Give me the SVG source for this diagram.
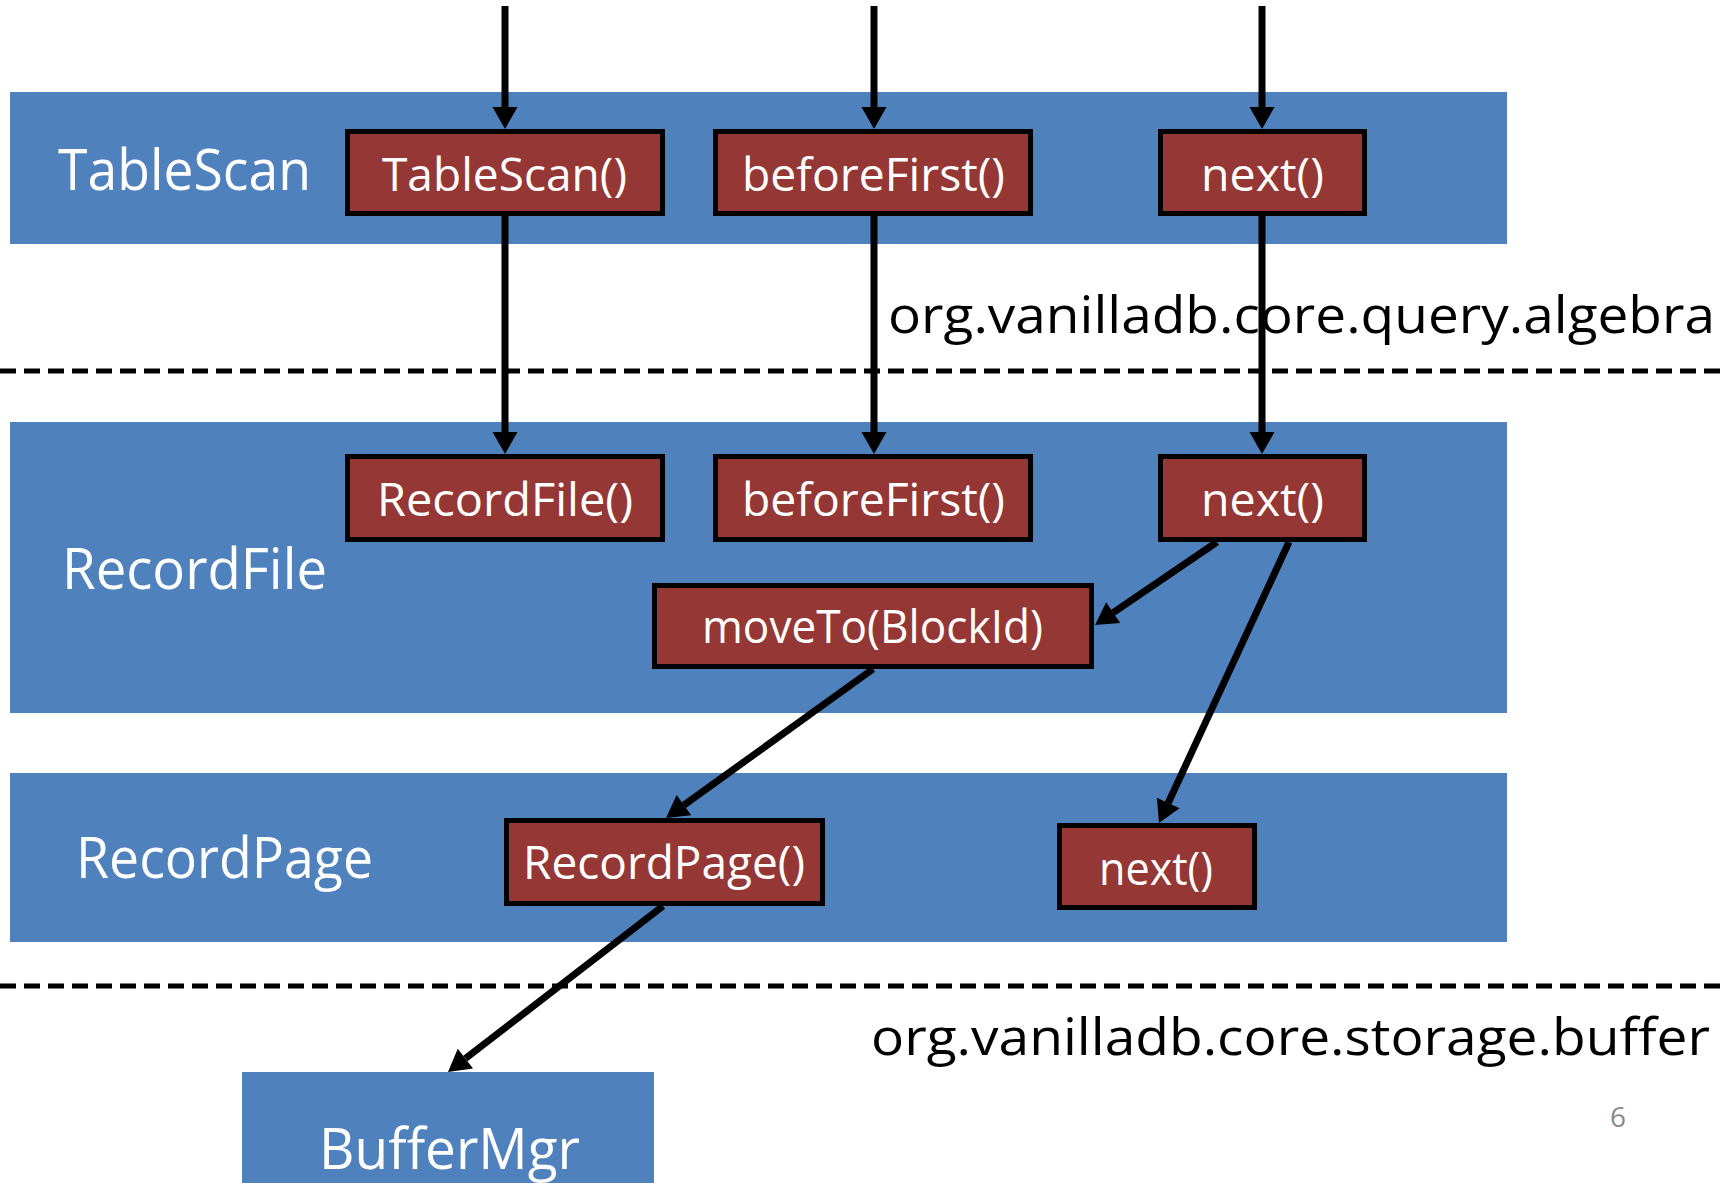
<svg xmlns="http://www.w3.org/2000/svg" width="1728" height="1183" viewBox="0 0 1728 1183">
  <defs>
    <style>
      .band { fill: #4F81BD; }
      .box { fill: #953735; stroke: #000; stroke-width: 5; }
      .lbl { font-family: "Open Sans", "Liberation Sans", sans-serif; fill: #fff; font-size: 56px; }
      .btxt { font-family: "Open Sans", "Liberation Sans", sans-serif; fill: #fff; font-size: 45px; }
      .pkg { font-family: "Open Sans", "Liberation Sans", sans-serif; fill: #000; font-size: 52px; }
      .num { font-family: "Open Sans", "Liberation Sans", sans-serif; fill: #898989; font-size: 27px; }
      .dash { stroke: #000; stroke-width: 5; stroke-dasharray: 16 8; fill: none; }
      .conn { stroke: #000; stroke-width: 7; fill: none; marker-end: url(#arrow); }
    </style>
    <marker id="arrow" markerUnits="userSpaceOnUse" markerWidth="23" markerHeight="25" refX="0" refY="12.5" orient="auto" overflow="visible">
      <path d="M0,0 L22,12.5 L0,25 z" fill="#000"/>
    </marker>
  </defs>

  <rect width="1728" height="1183" fill="#fff"/>

  <!-- layer bands -->
  <g id="band-tablescan">
    <rect class="band" x="10" y="92" width="1497" height="152"/>
    <text class="lbl" x="58" y="190" textLength="253" lengthAdjust="spacingAndGlyphs">TableScan</text>
  </g>
  <g id="band-recordfile">
    <rect class="band" x="10" y="422" width="1497" height="291"/>
    <text class="lbl" x="62" y="589" textLength="265" lengthAdjust="spacingAndGlyphs">RecordFile</text>
  </g>
  <g id="band-recordpage">
    <rect class="band" x="10" y="773" width="1497" height="169"/>
    <text class="lbl" x="76" y="878" textLength="297" lengthAdjust="spacingAndGlyphs">RecordPage</text>
  </g>
  <g id="buffermgr">
    <rect class="band" x="242" y="1072" width="412" height="120"/>
    <text class="lbl" x="319" y="1169" textLength="261" lengthAdjust="spacingAndGlyphs">BufferMgr</text>
  </g>

  <!-- package separators -->
  <g id="separators">
    <line class="dash" x1="0" y1="371" x2="1728" y2="371"/>
    <line class="dash" x1="0" y1="986" x2="1728" y2="986"/>
    <text class="pkg" x="888" y="333" textLength="827" lengthAdjust="spacingAndGlyphs">org.vanilladb.core.query.algebra</text>
    <text class="pkg" x="871" y="1055" textLength="839" lengthAdjust="spacingAndGlyphs">org.vanilladb.core.storage.buffer</text>
  </g>

  <!-- method nodes -->
  <g id="ts-ctor">
    <rect class="box" x="347.5" y="131.5" width="315" height="82"/>
    <text class="btxt" x="382" y="191" textLength="245" lengthAdjust="spacingAndGlyphs">TableScan()</text>
  </g>
  <g id="ts-beforefirst">
    <rect class="box" x="715.5" y="131.5" width="315" height="82"/>
    <text class="btxt" x="742" y="191" textLength="263" lengthAdjust="spacingAndGlyphs">beforeFirst()</text>
  </g>
  <g id="ts-next">
    <rect class="box" x="1160.5" y="131.5" width="204" height="82"/>
    <text class="btxt" x="1201" y="191" textLength="123" lengthAdjust="spacingAndGlyphs">next()</text>
  </g>
  <g id="rf-ctor">
    <rect class="box" x="347.5" y="456.5" width="315" height="83"/>
    <text class="btxt" x="377" y="516" textLength="256" lengthAdjust="spacingAndGlyphs">RecordFile()</text>
  </g>
  <g id="rf-beforefirst">
    <rect class="box" x="715.5" y="456.5" width="315" height="83"/>
    <text class="btxt" x="742" y="516" textLength="263" lengthAdjust="spacingAndGlyphs">beforeFirst()</text>
  </g>
  <g id="rf-next">
    <rect class="box" x="1160.5" y="456.5" width="204" height="83"/>
    <text class="btxt" x="1201" y="516" textLength="123" lengthAdjust="spacingAndGlyphs">next()</text>
  </g>
  <g id="rf-moveto">
    <rect class="box" x="654.5" y="585.5" width="437" height="81"/>
    <text class="btxt" x="702" y="643" textLength="341" lengthAdjust="spacingAndGlyphs">moveTo(BlockId)</text>
  </g>
  <g id="rp-ctor">
    <rect class="box" x="506.5" y="820.5" width="316" height="83"/>
    <text class="btxt" x="523" y="879" textLength="282" lengthAdjust="spacingAndGlyphs">RecordPage()</text>
  </g>
  <g id="rp-next">
    <rect class="box" x="1059.5" y="825.5" width="195" height="82"/>
    <text class="btxt" x="1099" y="885" textLength="114" lengthAdjust="spacingAndGlyphs">next()</text>
  </g>

  <!-- connectors -->
  <g id="connectors">
    <line class="conn" x1="505" y1="6" x2="505" y2="107"/>
    <line class="conn" x1="874" y1="6" x2="874" y2="107"/>
    <line class="conn" x1="1262" y1="6" x2="1262" y2="107"/>
    <line class="conn" x1="505" y1="216" x2="505" y2="432"/>
    <line class="conn" x1="874" y1="216" x2="874" y2="432"/>
    <line class="conn" x1="1262" y1="216" x2="1262" y2="432"/>
    <line class="conn" x1="1217" y1="542" x2="1113.2" y2="612.6"/>
    <line class="conn" x1="1289" y1="542" x2="1168.2" y2="803.0"/>
    <line class="conn" x1="873" y1="669" x2="683.9" y2="805.1"/>
    <line class="conn" x1="663" y1="906" x2="465.4" y2="1058.6"/>
  </g>

  <text class="num" x="1610" y="1127" textLength="16" lengthAdjust="spacingAndGlyphs">6</text>
</svg>
